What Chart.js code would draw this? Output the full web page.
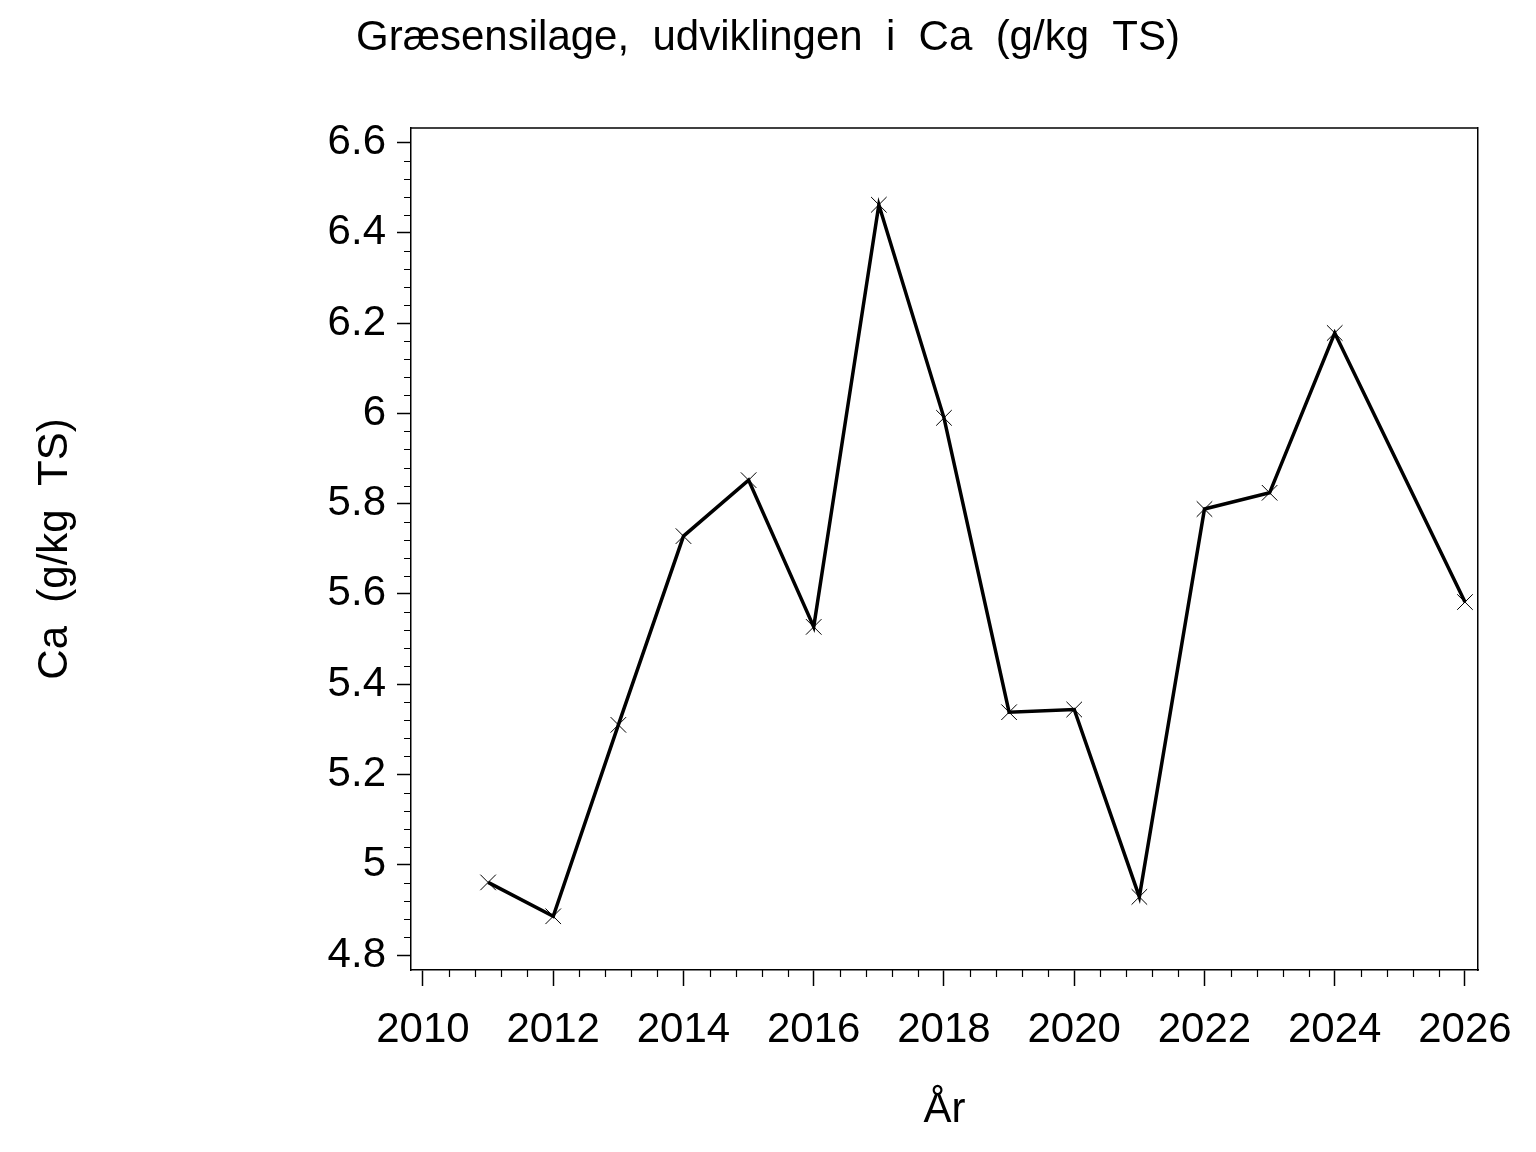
<!DOCTYPE html>
<html>
<head>
<meta charset="utf-8">
<script src="https://cdn.jsdelivr.net/npm/chart.js@4/dist/chart.umd.min.js"></script>
<style>
  html, body { margin: 0; padding: 0; background: #fff; }
  #wrap { width: 1536px; height: 1152px; }
</style>
</head>
<body>
<div id="wrap"><canvas id="chart" width="1536" height="1152"></canvas></div>
<script>
// Græsensilage, Ca (g/kg TS) per year — 2025 has no value
const years = [2011, 2012, 2013, 2014, 2015, 2016, 2017, 2018, 2019, 2020, 2021, 2022, 2023, 2024, 2026];
const caValues = [4.961, 4.886, 5.310, 5.728, 5.852, 5.527, 6.462, 5.990, 5.338, 5.344, 4.929, 5.788, 5.824, 6.178, 5.582];

const yTickValues = [4.8, 5.0, 5.2, 5.4, 5.6, 5.8, 6.0, 6.2, 6.4, 6.6];
const yTickLabels = ['4.8', '5', '5.2', '5.4', '5.6', '5.8', '6', '6.2', '6.4', '6.6'];
const xTickValues = [2010, 2012, 2014, 2016, 2018, 2020, 2022, 2024, 2026];
const xTickLabels = ['2010', '2012', '2014', '2016', '2018', '2020', '2022', '2024', '2026'];

const FONT = "'Liberation Sans', Arial, Helvetica, sans-serif";
const FS = 42;
const Y_MIN = 4.767, Y_MAX = 6.632;

// minor ticks + top line of the frame
const frameAndMinor = {
  id: 'frameAndMinor',
  afterDraw(chart) {
    const { ctx, chartArea: a, scales: { x, y } } = chart;
    ctx.save();
    ctx.strokeStyle = '#000';
    ctx.lineWidth = 1.5;
    ctx.beginPath();
    ctx.moveTo(a.left, a.top);
    ctx.lineTo(a.right, a.top);
    ctx.stroke();

    ctx.lineWidth = 1.2;
    ctx.beginPath();
    // y: 4 minor ticks between majors
    for (let i = 0; i < yTickValues.length - 1; i++) {
      for (let k = 1; k < 5; k++) {
        const v = yTickValues[i] + (yTickValues[i + 1] - yTickValues[i]) * k / 5;
        const py = Math.round(y.getPixelForValue(v)) + 0.5;
        ctx.moveTo(a.left - 7, py);
        ctx.lineTo(a.left, py);
      }
    }
    // x: 4 minor ticks between majors
    for (let i = 0; i < xTickValues.length - 1; i++) {
      for (let k = 1; k < 5; k++) {
        const v = xTickValues[i] + (xTickValues[i + 1] - xTickValues[i]) * k / 5;
        const px = Math.round(x.getPixelForValue(v)) + 0.5;
        ctx.moveTo(px, a.bottom);
        ctx.lineTo(px, a.bottom + 7);
      }
    }
    ctx.stroke();
    ctx.restore();
  }
};

new Chart(document.getElementById('chart').getContext('2d'), {
  type: 'line',
  data: {
    datasets: [{
      data: years.map((yr, i) => ({ x: yr, y: caValues[i] })),
      borderColor: '#000',
      borderWidth: 3.5,
      tension: 0,
      fill: false,
      pointStyle: 'crossRot',
      pointRadius: 11,
      pointBorderWidth: 1,
      pointBorderColor: '#000',
      pointBackgroundColor: '#000',
    }]
  },
  options: {
    responsive: false,
    devicePixelRatio: 1,
    animation: false,
    layout: { padding: 0 },
    plugins: {
      legend: { display: false },
      tooltip: { enabled: false },
      title: {
        display: true,
        text: 'Græsensilage,  udviklingen  i  Ca  (g/kg  TS)',
        color: '#000',
        font: { family: FONT, size: FS, weight: 'normal' },
        padding: { top: 13, bottom: 64.6 },
      },
    },
    scales: {
      x: {
        type: 'linear',
        min: 2009.816,
        max: 2026.2,
        afterBuildTicks: (s) => { s.ticks = xTickValues.map(v => ({ value: v })); },
        afterFit: (s) => { s.height = 182; },
        ticks: {
          color: '#000',
          font: { family: FONT, size: FS },
          padding: 19,
          maxRotation: 0,
          autoSkip: false,
          callback: (v) => xTickLabels[xTickValues.indexOf(v)],
        },
        grid: { drawOnChartArea: false, drawTicks: true, tickLength: 16, tickColor: '#000', tickWidth: 1.5 },
        border: { display: true, color: '#000', width: 1.5 },
        title: {
          display: true,
          text: 'År',
          color: '#000',
          font: { family: FONT, size: FS },
          padding: { top: 0, bottom: 16 },
        },
      },
      y: {
        type: 'linear',
        min: Y_MIN,
        max: Y_MAX,
        afterBuildTicks: (s) => { s.ticks = yTickValues.map(v => ({ value: v })); },
        afterFit: (s) => { s.width = 411; },
        ticks: {
          color: '#000',
          font: { family: FONT, size: FS },
          padding: 11,
          autoSkip: false,
          callback: (v) => yTickLabels[yTickValues.indexOf(v)],
        },
        grid: { drawOnChartArea: false, drawTicks: true, tickLength: 14, tickColor: '#000', tickWidth: 1.5 },
        border: { display: true, color: '#000', width: 1.5 },
        title: {
          display: true,
          text: 'Ca  (g/kg  TS)',
          color: '#000',
          font: { family: FONT, size: FS },
          padding: { top: 30, bottom: 0 },
        },
      },
      // empty right axis: closes the frame and keeps the right margin
      yRight: {
        type: 'linear',
        position: 'right',
        display: true,
        min: Y_MIN,
        max: Y_MAX,
        afterFit: (s) => { s.width = 58; },
        ticks: { display: false },
        grid: { display: false },
        border: { display: true, color: '#000', width: 1.5 },
      },
    },
  },
  plugins: [frameAndMinor],
});
</script>
</body>
</html>
